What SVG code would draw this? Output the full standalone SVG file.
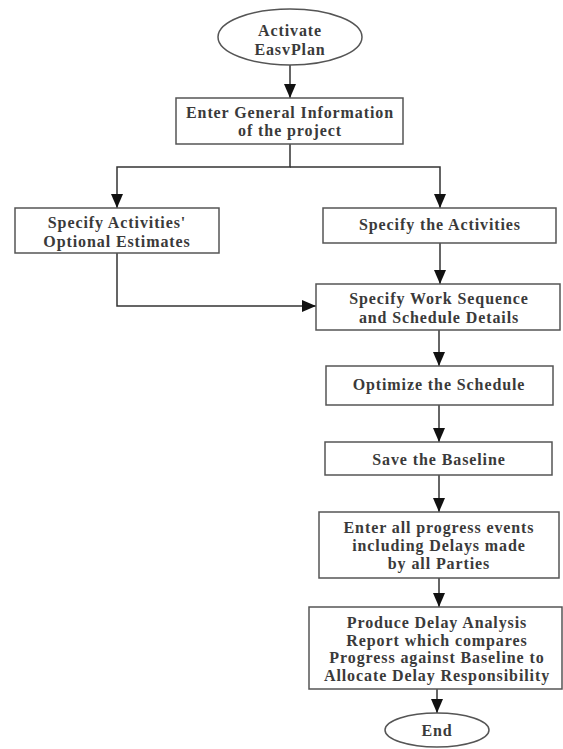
<svg xmlns="http://www.w3.org/2000/svg" width="563" height="749" viewBox="0 0 563 749">
<style>
.n{fill:#fff;stroke:#555;stroke-width:1.5}
.t{font-family:"Liberation Serif",serif;font-size:16px;font-weight:bold;letter-spacing:0.9px;fill:#3a3a3a;text-anchor:middle;dominant-baseline:central}
.c{fill:none;stroke:#333;stroke-width:1.5}
</style>
<defs>
<marker id="a" viewBox="0 0 14 12" refX="14" refY="6" markerWidth="14" markerHeight="12" markerUnits="userSpaceOnUse" orient="auto">
<path d="M0,0L14,6L0,12Z" fill="#111"/>
</marker>
</defs>
<rect width="563" height="749" fill="#fff"/>
<g id="connectors">
<path class="c" d="M290,65V98" marker-end="url(#a)"/>
<path class="c" d="M290,144V167H117V208" marker-end="url(#a)"/>
<path class="c" d="M290,167H440V208" marker-end="url(#a)"/>
<path class="c" d="M440,243V284" marker-end="url(#a)"/>
<path class="c" d="M117,253V306H316" marker-end="url(#a)"/>
<path class="c" d="M439,330V366" marker-end="url(#a)"/>
<path class="c" d="M439,405V442" marker-end="url(#a)"/>
<path class="c" d="M439,475V512" marker-end="url(#a)"/>
<path class="c" d="M439,578V607" marker-end="url(#a)"/>
<path class="c" d="M437,689V713" marker-end="url(#a)"/>
</g>
<g id="start">
<ellipse class="n" cx="290" cy="37" rx="72" ry="28"/>
<text class="t" x="290" y="30">Activate</text>
<text class="t" x="290" y="49">EasvPlan</text>
</g>
<g id="general">
<rect class="n" x="176" y="98" width="227" height="46"/>
<text class="t" x="290" y="112">Enter General Information</text>
<text class="t" x="290" y="130">of the project</text>
</g>
<g id="estimates">
<rect class="n" x="15" y="208" width="204" height="45"/>
<text class="t" x="117" y="222">Specify Activities'</text>
<text class="t" x="117" y="241">Optional Estimates</text>
</g>
<g id="activities">
<rect class="n" x="323" y="208" width="233" height="35"/>
<text class="t" x="440" y="224">Specify the Activities</text>
</g>
<g id="sequence">
<rect class="n" x="316" y="284" width="244" height="46"/>
<text class="t" x="439" y="298">Specify Work Sequence</text>
<text class="t" x="439" y="317">and Schedule Details</text>
</g>
<g id="optimize">
<rect class="n" x="326" y="366" width="227" height="39"/>
<text class="t" x="439" y="384">Optimize the Schedule</text>
</g>
<g id="baseline">
<rect class="n" x="325" y="442" width="227" height="33"/>
<text class="t" x="439" y="459">Save the Baseline</text>
</g>
<g id="progress">
<rect class="n" x="319" y="512" width="240" height="66"/>
<text class="t" x="439" y="527">Enter all progress events</text>
<text class="t" x="439" y="545">including Delays made</text>
<text class="t" x="439" y="563">by all Parties</text>
</g>
<g id="report">
<rect class="n" x="309" y="607" width="253" height="82"/>
<text class="t" x="437" y="622">Produce Delay Analysis</text>
<text class="t" x="437" y="640">Report which compares</text>
<text class="t" x="437" y="657">Progress against Baseline to</text>
<text class="t" x="437" y="675">Allocate Delay Responsibility</text>
</g>
<g id="end">
<ellipse class="n" cx="437" cy="730" rx="52" ry="17"/>
<text class="t" x="437" y="730">End</text>
</g>
</svg>
